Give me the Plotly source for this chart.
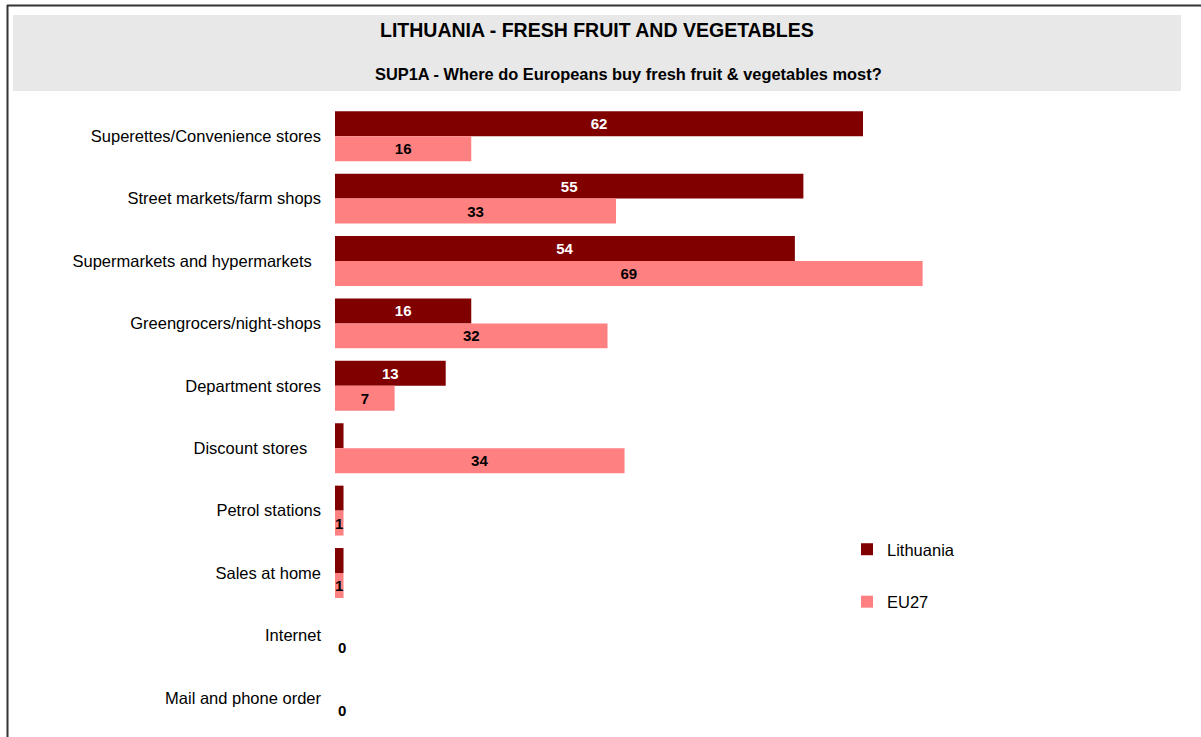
import plotly.graph_objects as go

categories = [
    "Superettes/Convenience stores",
    "Street markets/farm shops",
    "Supermarkets and hypermarkets\u00a0\u00a0",
    "Greengrocers/night-shops",
    "Department stores",
    "Discount stores\u00a0\u00a0\u00a0",
    "Petrol stations",
    "Sales at home",
    "Internet",
    "Mail and phone order",
]
lithuania = [62, 55, 54, 16, 13, 1, 1, 1, 0, 0]
eu27 = [16, 33, 69, 32, 7, 34, 1, 1, 0, 0]

title = "LITHUANIA - FRESH FRUIT AND VEGETABLES"
subtitle = "SUP1A - Where do Europeans buy fresh fruit & vegetables most?"

FONT = "Liberation Sans, Arial, sans-serif"
W, H = 1201, 737
L, R, T, B = 335, 21, 105, 8
PW, PH = W - L - R, H - T - B
SCALE = (863 - 335) / 62.0
XMAX = PW / SCALE


def px(x):
    return (x - L) / PW


def py(y):
    return (H - B - y) / PH


def positions(vals, minimum):
    return ["inside" if v >= minimum else "outside" for v in vals]


fig = go.Figure()
fig.add_trace(go.Bar(
    name="Lithuania", y=categories, x=lithuania, orientation="h",
    marker=dict(color="#800000", line=dict(width=0)),
    text=[str(v) for v in lithuania], textposition=positions(lithuania, 2),
    insidetextanchor="middle", constraintext="none",
    textfont=dict(family=FONT, size=15, color="white", weight="bold"),
    cliponaxis=False, legendgroup="a",
))
fig.add_trace(go.Bar(
    name="EU27", y=categories, x=eu27, orientation="h",
    marker=dict(color="#ff8080", line=dict(width=0)),
    text=[str(v) for v in eu27], textposition=positions(eu27, 1),
    insidetextanchor="middle", constraintext="none",
    textfont=dict(family=FONT, size=15, color="black", weight="bold"),
    cliponaxis=False, legendgroup="b",
))

shapes = [
    dict(type="rect", xref="paper", yref="paper", x0=px(13), x1=px(1181), y0=py(91), y1=py(15),
         fillcolor="#e8e8e8", line=dict(width=0), layer="below"),
    dict(type="line", xref="paper", yref="paper", x0=px(7), x1=px(1201), y0=py(5.5), y1=py(5.5),
         line=dict(color="#333333", width=2)),
    dict(type="line", xref="paper", yref="paper", x0=px(7.5), x1=px(7.5), y0=py(5), y1=py(737),
         line=dict(color="#333333", width=2)),
]

annotations = [
    dict(text="<b>" + title + "</b>", xref="paper", yref="paper", x=px(597), y=py(30),
         showarrow=False, font=dict(family=FONT, size=19.5, color="black"),
         xanchor="center", yanchor="middle"),
    dict(text="<b>" + subtitle.replace("&", "&amp;") + "</b>", xref="paper", yref="paper",
         x=px(628), y=py(74), showarrow=False,
         font=dict(family=FONT, size=16.4, color="black"),
         xanchor="center", yanchor="middle"),
]

fig.update_layout(
    width=W, height=H,
    margin=dict(l=L, r=R, t=T, b=B, pad=0),
    paper_bgcolor="white", plot_bgcolor="white",
    barmode="group", bargap=0.2, bargroupgap=0,
    font=dict(family=FONT, size=16.5, color="black"),
    showlegend=True,
    legend=dict(x=px(847), y=py(532), xanchor="left", yanchor="top",
                font=dict(family=FONT, size=16.5, color="black"),
                tracegroupgap=28, traceorder="grouped", bgcolor="rgba(0,0,0,0)",
                itemwidth=30),
    xaxis=dict(range=[0, XMAX], showgrid=False, zeroline=False, showticklabels=False,
               showline=False, ticks="", fixedrange=True),
    yaxis=dict(autorange="reversed", showgrid=False, zeroline=False, showline=False,
               ticks="", ticklabelstandoff=13,
               tickfont=dict(family=FONT, size=16.5, color="black"),
               fixedrange=True),
    shapes=shapes, annotations=annotations,
)

fig.write_html(
    "out.html",
    config={"displayModeBar": False},
    post_script="document.body.style.margin='0';document.body.style.padding='0';",
)
